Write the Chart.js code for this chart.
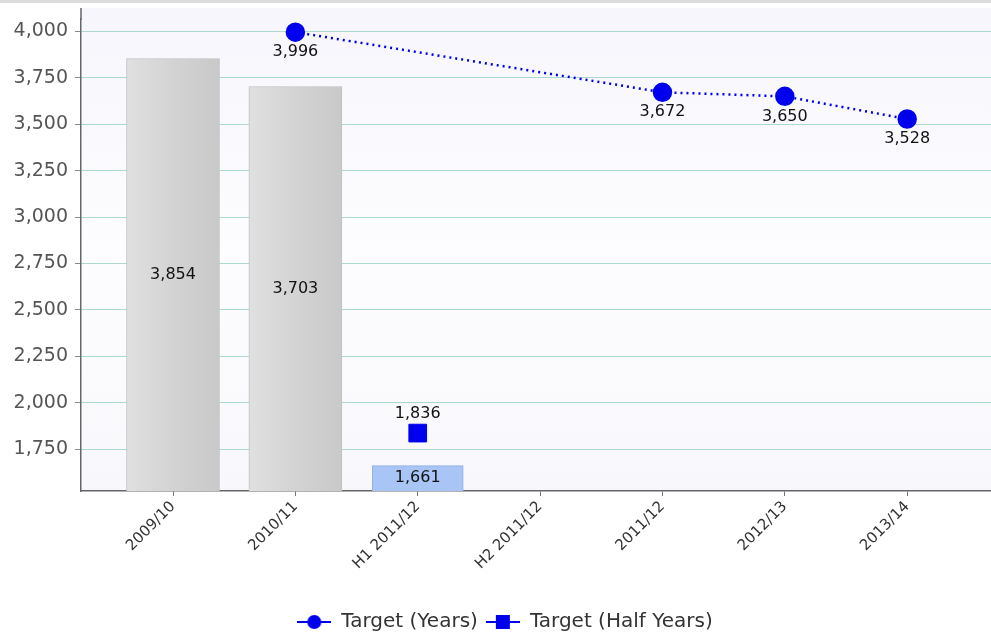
<!DOCTYPE html>
<html>
<head>
<meta charset="utf-8">
<script src="https://cdn.jsdelivr.net/npm/chart.js@4/dist/chart.umd.min.js"></script>
<style>
  html, body { margin: 0; padding: 0; background: #fff; overflow: hidden; }
  #wrap { position: relative; width: 1010px; height: 642px; }
</style>
</head>
<body>
<div id="wrap"><canvas id="targetChart"></canvas></div>
<script>
// Chart data
const labels = ["2009/10", "2010/11", "H1 2011/12", "H2 2011/12", "2011/12", "2012/13", "2013/14"];
const actualYears = [3854, 3703, null, null, null, null, null];
const actualHalfYears = [null, null, 1661, null, null, null, null];
const targetYears = [null, 3996, null, null, 3672, 3650, 3528];
const targetHalfYears = [null, null, 1836, null, null, null, null];
const yTicks = [1750, 2000, 2250, 2500, 2750, 3000, 3250, 3500, 3750, 4000];

const fmt = v => v.toLocaleString("en-US");
const toPoints = arr => arr.map((v, i) => v === null ? null : { x: i, y: v }).filter(p => p);

// little legend icons: line with marker
function legendIcon(shape) {
    const c = document.createElement("canvas");
    c.width = 34; c.height = 18;
    const g = c.getContext("2d");
    g.strokeStyle = "#0000ee";
    g.lineWidth = 2;
    g.beginPath(); g.moveTo(0, 9); g.lineTo(34, 9); g.stroke();
    g.fillStyle = "#0000ee";
    if (shape === "circle") {
        g.beginPath(); g.arc(17, 9, 7, 0, Math.PI * 2); g.fill();
    } else {
        g.fillRect(10, 2, 14, 14);
    }
    return c;
}

function greyBar(ctx) {
    const chart = ctx.chart;
    if (!chart.chartArea || !ctx.raw) return "#d2d2d2";
    const cx = chart.scales.x.getPixelForValue(ctx.raw.x);
    const grad = chart.ctx.createLinearGradient(cx - 46, 0, cx + 46, 0);
    grad.addColorStop(0, "#e0e0e0");
    grad.addColorStop(0.5, "#d3d3d3");
    grad.addColorStop(1, "#c9c9c9");
    return grad;
}

// value labels on marks
const valueLabels = {
    id: "valueLabels",
    afterDatasetsDraw(chart) {
        const ctx = chart.ctx;
        const bottom = chart.chartArea.bottom;
        ctx.save();
        ctx.font = "16px 'DejaVu Sans'";
        ctx.fillStyle = "#111";
        ctx.textAlign = "center";
        ctx.textBaseline = "middle";
        chart.data.datasets.forEach((ds, i) => {
            const meta = chart.getDatasetMeta(i);
            meta.data.forEach((el, j) => {
                const v = ds.data[j].y;
                let y = el.y;
                if (ds.labelPos === "center") y = (el.y + Math.min(el.base, bottom)) / 2;
                if (ds.labelPos === "below") y = el.y + 20;
                if (ds.labelPos === "above") y = el.y - 19;
                ctx.fillText(fmt(v), el.x, y);
            });
        });
        ctx.restore();
    }
};

// plot background, reaching up to the top of the y axis line
const PLOT_TOP = 8;
const background = {
    id: "background",
    beforeDraw(chart) {
        const ctx = chart.ctx;
        const a = chart.chartArea;
        ctx.save();
        ctx.fillStyle = "#dcdcdc";
        ctx.fillRect(0, 0, chart.width, 3);
        const grad = ctx.createLinearGradient(0, PLOT_TOP, 0, a.bottom);
        grad.addColorStop(0, "#f6f6fc");
        grad.addColorStop(0.5, "#fdfdff");
        grad.addColorStop(1, "#f8f8fc");
        ctx.fillStyle = grad;
        ctx.fillRect(a.left, PLOT_TOP, a.right - a.left, a.bottom - PLOT_TOP);
        ctx.restore();
    },
    afterDraw(chart) {
        const ctx = chart.ctx;
        const a = chart.chartArea;
        ctx.save();
        ctx.strokeStyle = "#666";
        ctx.lineWidth = 1.5;
        ctx.beginPath();
        ctx.moveTo(a.left, PLOT_TOP);
        ctx.lineTo(a.left, a.top + 1);
        ctx.stroke();
        ctx.restore();
    }
};

new Chart(document.getElementById("targetChart"), {
    data: {
        datasets: [
            {
                type: "line",
                label: "Target (Years)",
                data: toPoints(targetYears),
                borderColor: "#0000ee",
                backgroundColor: "#0000ee",
                borderWidth: 2.5,
                borderDash: [2, 4],
                pointRadius: 8.5,
                pointStyle: "circle",
                labelPos: "below",
                order: 0
            },
            {
                type: "line",
                label: "Target (Half Years)",
                data: toPoints(targetHalfYears),
                borderColor: "#0000ee",
                backgroundColor: "#0000ee",
                showLine: false,
                pointRadius: 12.5,
                pointStyle: "rect",
                labelPos: "above",
                order: 0
            },
            {
                type: "bar",
                label: "Actual (Years)",
                data: toPoints(actualYears),
                backgroundColor: greyBar,
                borderColor: "#c0c0c0",
                borderWidth: 1,
                barThickness: 93,
                grouped: false,
                labelPos: "center",
                order: 1
            },
            {
                type: "bar",
                label: "Actual (Half Years)",
                data: toPoints(actualHalfYears),
                backgroundColor: "#a9c5f6",
                borderColor: "#8eaee6",
                borderWidth: 1,
                barThickness: 91,
                grouped: false,
                labelPos: "center",
                order: 1
            }
        ]
    },
    options: {
        responsive: true,
        maintainAspectRatio: false,
        animation: false,
        layout: { padding: 0 },
        scales: {
            x: {
                type: "linear",
                offset: false,
                min: -0.752,
                max: 6.73,
                afterBuildTicks: scale => {
                    scale.ticks = labels.map((l, i) => ({ value: i }));
                },
                afterFit: scale => { scale.height = 113; },
                ticks: {
                    callback: v => labels[v],
                    minRotation: 45,
                    maxRotation: 45,
                    autoSkip: false,
                    color: "#333",
                    font: { family: "DejaVu Sans", size: 15 },
                    padding: 2
                },
                grid: {
                    offset: false,
                    drawOnChartArea: false,
                    tickLength: 5,
                    tickColor: "#777"
                },
                border: { color: "#666", width: 1.5 }
            },
            y: {
                min: 1524,
                max: 4070,
                afterBuildTicks: scale => {
                    scale.ticks = yTicks.map(v => ({ value: v }));
                },
                afterFit: scale => { scale.width = 81; },
                ticks: {
                    callback: v => fmt(v),
                    color: "#555",
                    font: { family: "DejaVu Sans", size: 19 },
                    padding: 7
                },
                grid: {
                    color: "#acd9ce",
                    tickLength: 6,
                    tickColor: "#888"
                },
                border: { color: "#666", width: 1.5 }
            }
        },
        plugins: {
            tooltip: { enabled: false },
            legend: {
                position: "bottom",
                labels: {
                    usePointStyle: true,
                    pointStyleWidth: 34,
                    color: "#333",
                    font: { family: "DejaVu Sans", size: 20 },
                    padding: 8,
                    generateLabels: chart => [
                        { text: "Target (Years)", pointStyle: legendIcon("circle"), datasetIndex: 0, fontColor: "#333", lineWidth: 0, strokeStyle: "transparent", fillStyle: "transparent" },
                        { text: "Target (Half Years)", pointStyle: legendIcon("rect"), datasetIndex: 1, fontColor: "#333", lineWidth: 0, strokeStyle: "transparent", fillStyle: "transparent" }
                    ]
                }
            }
        }
    },
    plugins: [background, valueLabels]
});
</script>
</body>
</html>
